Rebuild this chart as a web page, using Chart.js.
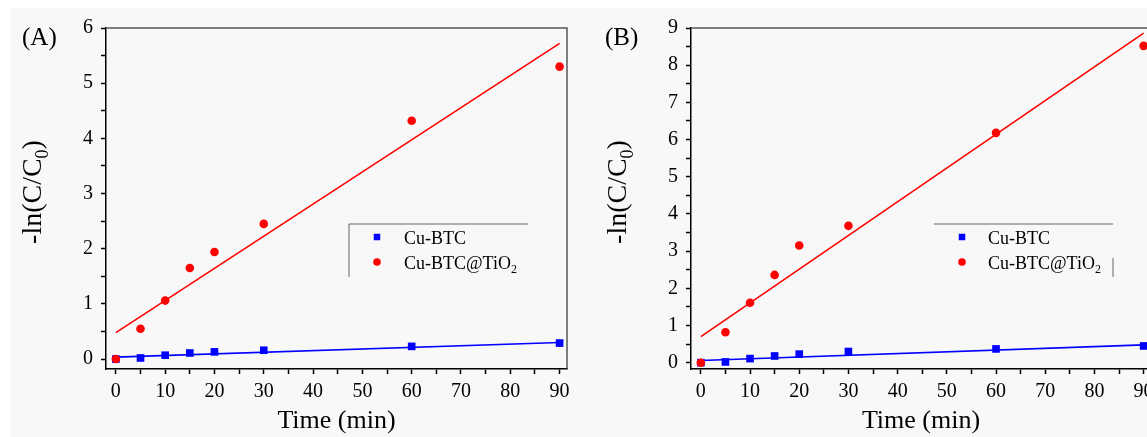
<!DOCTYPE html>
<html>
<head>
<meta charset="utf-8">
<script src="https://cdn.jsdelivr.net/npm/chart.js@4.4.1/dist/chart.umd.min.js"></script>
<style>
  html, body { margin: 0; padding: 0; background: #fff; overflow: hidden; }
  #page { position: relative; width: 1147px; height: 437px; overflow: hidden; }
  #bg { position: absolute; left: 10px; top: 8px; right: 0; bottom: 0; background: #f8f8f8; }
  .panel { position: absolute; top: 0; height: 437px; }
  #panelA { left: 0; width: 580px; }
  #panelB { left: 580px; width: 600px; }
</style>
</head>
<body>
<div id="page">
  <div id="bg"></div>
  <div class="panel" id="panelA"><canvas id="chartA"></canvas></div>
  <div class="panel" id="panelB"><canvas id="chartB"></canvas></div>
</div>
<script>
const times = [0, 5, 10, 15, 20, 30, 60, 90];
const cuBtcA = [0, 0.02, 0.07, 0.11, 0.13, 0.16, 0.23, 0.29];
const cuBtcTiO2A = [0, 0.55, 1.06, 1.65, 1.94, 2.45, 4.32, 5.30];
const cuBtcB = [0, 0.02, 0.11, 0.18, 0.23, 0.30, 0.37, 0.45];
const cuBtcTiO2B = [0, 0.82, 1.61, 2.36, 3.15, 3.68, 6.18, 8.52];

// fitted lines, end points
const fitTimes = [0, 90];
const fitCuBtcA = [0.035, 0.30];
const fitCuBtcTiO2A = [0.48, 5.72];
const fitCuBtcB = [0.06, 0.48];
const fitCuBtcTiO2B = [0.70, 8.86];

// "_x" = subscript x
const seriesNames = ["Cu-BTC", "Cu-BTC@TiO_2"];
const yTitle = "-ln(C/C_0)";
const xTitle = "Time (min)";
const panelNames = ["(A)", "(B)"];

const FONT = '"Liberation Serif", "Times New Roman", serif';
const BLUE = "#0000ff";
const RED = "#ff0000";

function pts(xs, ys) {
  return xs.map((x, i) => ({ x: x, y: ys[i] }));
}

function richParts(str) {
  const parts = [];
  let buf = "";
  for (let i = 0; i < str.length; i++) {
    if (str[i] === "_") {
      if (buf) parts.push({ t: buf, sub: false });
      buf = "";
      parts.push({ t: str[i + 1], sub: true });
      i++;
    } else {
      buf += str[i];
    }
  }
  if (buf) parts.push({ t: buf, sub: false });
  return parts;
}

function drawRich(ctx, str, x, y, size, center) {
  const parts = richParts(str);
  const subSize = Math.round(size * 0.66);
  const widths = parts.map(p => {
    ctx.font = (p.sub ? subSize : size) + "px " + FONT;
    return ctx.measureText(p.t).width;
  });
  const total = widths.reduce((a, b) => a + b, 0);
  let cx = center ? x - total / 2 : x;
  parts.forEach((p, i) => {
    ctx.font = (p.sub ? subSize : size) + "px " + FONT;
    ctx.fillText(p.t, cx, p.sub ? y + size * 0.24 : y);
    cx += widths[i];
  });
}

const decor = {
  id: "decor",
  afterDraw(chart, args, o) {
    const { ctx, chartArea: a } = chart;
    ctx.save();
    // top and right frame
    ctx.strokeStyle = "#555";
    ctx.lineWidth = 1.5;
    ctx.beginPath();
    ctx.moveTo(a.left, a.top);
    ctx.lineTo(a.right, a.top);
    ctx.lineTo(a.right, a.bottom);
    ctx.stroke();

    ctx.fillStyle = "#000";
    ctx.textBaseline = "alphabetic";
    ctx.textAlign = "left";
    ctx.font = "25px " + FONT;
    ctx.fillText(o.panel, o.panelX, 45);

    // y title
    ctx.save();
    ctx.translate(a.left - o.titleOffset, o.titleY);
    ctx.rotate(-Math.PI / 2);
    drawRich(ctx, yTitle, 0, 0, 28, true);
    ctx.restore();

    // legend
    const L = o.legend;
    ctx.strokeStyle = "#666";
    ctx.lineWidth = 1;
    ctx.beginPath();
    ctx.moveTo(L.x, L.y);
    ctx.lineTo(L.x + L.w, L.y);
    ctx.stroke();
    if (L.side) {
      ctx.beginPath();
      ctx.moveTo(L.side.x, L.side.y0);
      ctx.lineTo(L.side.x, L.side.y1);
      ctx.stroke();
    }
    const styles = ["rect", "circle"];
    const colors = [BLUE, RED];
    const radii = [4.6, 3.8];
    seriesNames.forEach((name, i) => {
      const my = L.y + 13 + i * 25;
      ctx.fillStyle = colors[i];
      ctx.beginPath();
      if (styles[i] === "rect") {
        const s = radii[i] * Math.SQRT1_2;
        ctx.rect(L.markX - s, my - s, 2 * s, 2 * s);
      } else {
        ctx.arc(L.markX, my, radii[i], 0, Math.PI * 2);
      }
      ctx.fill();
      ctx.fillStyle = "#000";
      drawRich(ctx, name, L.textX, my + 7, 18, false);
    });
    ctx.restore();
  }
};

function makeChart(id, pointsBlue, pointsRed, fitBlue, fitRed, yMin, yMax, yWidth, padRight, deco) {
  return new Chart(document.getElementById(id), {
    type: "scatter",
    data: {
      datasets: [
        {
          label: seriesNames[1], data: pts(times, pointsRed), order: 0,
          pointStyle: "circle", pointRadius: 4.3, backgroundColor: RED, borderWidth: 0
        },
        {
          label: seriesNames[0], data: pts(times, pointsBlue), order: 1,
          pointStyle: "rect", pointRadius: 5.4, backgroundColor: BLUE, borderWidth: 0
        },
        {
          label: "fit red", data: pts(fitTimes, fitRed), order: 2, showLine: true,
          pointRadius: 0, borderColor: RED, borderWidth: 1.6
        },
        {
          label: "fit blue", data: pts(fitTimes, fitBlue), order: 3, showLine: true,
          pointRadius: 0, borderColor: BLUE, borderWidth: 1.6
        }
      ]
    },
    options: {
      responsive: true,
      maintainAspectRatio: false,
      animation: false,
      layout: { padding: { top: 28, right: padRight, left: 0, bottom: 0 } },
      plugins: {
        legend: { display: false },
        tooltip: { enabled: false },
        decor: deco
      },
      scales: {
        x: {
          type: "linear", min: -2, max: 91.5,
          afterFit: s => { s.height = 68; },
          border: { color: "#000", width: 1.5 },
          grid: { drawOnChartArea: false, drawTicks: true, tickLength: 5, tickColor: "#000", tickWidth: 1.5 },
          ticks: {
            stepSize: 5, includeBounds: false, autoSkip: false, maxRotation: 0, padding: 6,
            color: "#000", font: { family: FONT, size: 20 },
            callback: v => (v % 10 === 0 ? v : "")
          },
          title: {
            display: true, text: xTitle, color: "#000",
            font: { family: FONT, size: 26 }, padding: { top: 0, bottom: 0 }
          }
        },
        y: {
          type: "linear", min: yMin, max: yMax,
          afterFit: s => { s.width = yWidth; },
          border: { color: "#000", width: 1.5 },
          grid: { drawOnChartArea: false, drawTicks: true, tickLength: 5, tickColor: "#000", tickWidth: 1.5 },
          ticks: {
            stepSize: 0.5, includeBounds: false, autoSkip: false, padding: 8,
            color: "#000", font: { family: FONT, size: 20 },
            callback: v => (Number.isInteger(v) ? v : "")
          }
        }
      }
    },
    plugins: [decor]
  });
}

makeChart("chartA", cuBtcA, cuBtcTiO2A, fitCuBtcA, fitCuBtcTiO2A, -0.18, 6, 106, 13, {
  panel: panelNames[0], panelX: 22, titleOffset: 65, titleY: 192,
  legend: { x: 349, y: 224, w: 179, markX: 377, textX: 404, side: { x: 349, y0: 224, y1: 277 } }
});

makeChart("chartB", cuBtcB, cuBtcTiO2B, fitCuBtcB, fitCuBtcTiO2B, -0.17, 9, 111, 29, {
  panel: panelNames[1], panelX: 25, titleOffset: 65, titleY: 192,
  legend: { x: 354, y: 224, w: 179, markX: 382, textX: 408, side: { x: 533, y0: 258, y1: 277 } }
});
</script>
</body>
</html>
